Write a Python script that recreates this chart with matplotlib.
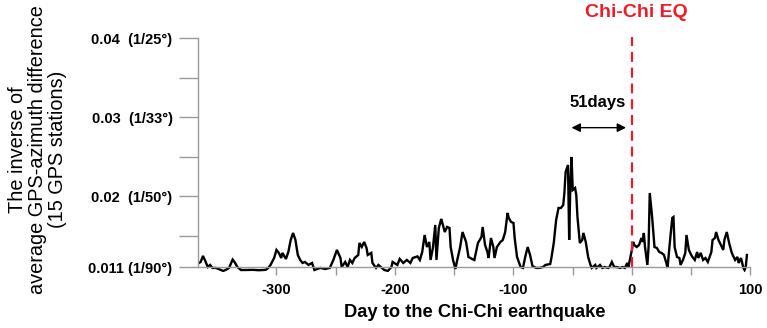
import matplotlib.pyplot as plt
import numpy as np

plt.rcParams['font.family'] = ['Liberation Sans', 'DejaVu Sans']

# days relative to the Chi-Chi earthquake and the inverse azimuth difference
days = [-365, -364, -362, -360, -358, -356, -354, -351, -349, -345, -343, -340,
        -337, -335, -333, -330, -326, -320, -315, -309, -307, -305, -302, -300,
        -298, -296, -295, -292, -290, -288, -286, -284, -282, -280, -278, -276,
        -273, -270, -268, -263, -259, -255, -252, -249, -246, -245, -242, -240,
        -238, -236, -234, -231, -230, -228, -226, -224, -223, -220, -219, -216,
        -214, -212, -209, -206, -203, -202, -198, -196, -193, -190, -187, -185,
        -181, -179, -177, -175, -173, -171, -170, -168, -166, -165, -163, -161,
        -160, -158, -156, -154, -153, -151, -149, -148, -145, -143, -140, -138,
        -135, -133, -130, -127, -126, -124, -122, -121, -119, -117, -116, -114,
        -111, -109, -107, -105, -104, -102, -100, -99, -97, -94, -92, -90,
        -88, -86, -84, -81, -78, -75, -73, -69, -68, -66, -64, -62,
        -60, -58, -57, -56, -54, -53, -52, -51, -50, -48, -47, -46,
        -44, -42, -41, -39, -37, -35, -34, -31, -30, -27, -25, -23,
        -20, -19, -17, -15, -13, -10, -8, -6, -4, -3, 0, 1,
        2, 4, 6, 8, 9, 10, 11, 13, 14, 15, 17, 19,
        21, 23, 25, 27, 29, 30, 32, 34, 35, 36, 38, 40,
        41, 43, 45, 46, 48, 50, 51, 53, 55, 56, 58, 60,
        62, 64, 67, 68, 70, 71, 73, 75, 77, 78, 80, 82,
        84, 85, 87, 89, 90, 92, 94, 95, 96, 97]
values = [0.0116, 0.0117, 0.01246, 0.0118, 0.01106, 0.01132, 0.01094, 0.01094, 0.01081, 0.01056, 0.01068, 0.01094,
          0.0120, 0.0116, 0.01106, 0.01068, 0.01068, 0.0107, 0.01065, 0.0107, 0.01094, 0.01132, 0.0122, 0.01322,
          0.01284, 0.0122, 0.01284, 0.01208, 0.01296, 0.01448, 0.01537, 0.01448, 0.01258, 0.01195, 0.01157, 0.0117,
          0.01132, 0.01157, 0.01068, 0.01094, 0.01081, 0.01094, 0.01195, 0.01322, 0.0122, 0.01106, 0.0117, 0.01106,
          0.01195, 0.01157, 0.0122, 0.01258, 0.0141, 0.0136, 0.01423, 0.01347, 0.01258, 0.01284, 0.01157, 0.01094,
          0.01132, 0.01106, 0.01068, 0.01056, 0.01106, 0.0117, 0.01132, 0.01208, 0.01157, 0.01195, 0.01157, 0.0122,
          0.0124, 0.01195, 0.01296, 0.01511, 0.01359, 0.01423, 0.01195, 0.01347, 0.01638, 0.01195, 0.016, 0.01714,
          0.01663, 0.01549, 0.01613, 0.016, 0.01359, 0.01195, 0.01081, 0.01157, 0.01359, 0.01549, 0.01423, 0.01233,
          0.01208, 0.01195, 0.0141, 0.01486, 0.01613, 0.01385, 0.01296, 0.0122, 0.01473, 0.01359, 0.0122, 0.01359,
          0.01423, 0.01448, 0.01549, 0.0179, 0.01727, 0.01676, 0.01663, 0.01473, 0.01233, 0.01106, 0.01094, 0.0124,
          0.01359, 0.01258, 0.01119, 0.01094, 0.01094, 0.01106, 0.01132, 0.01144, 0.0122, 0.0141, 0.01701, 0.01853,
          0.01853, 0.01891, 0.0205, 0.02309, 0.02398, 0.0145, 0.0217, 0.02499, 0.02081, 0.02106, 0.02018, 0.01739,
          0.0141, 0.01448, 0.01537, 0.01423, 0.01233, 0.01132, 0.01094, 0.01132, 0.01094, 0.01132, 0.01094, 0.01106,
          0.01094, 0.01106, 0.0117, 0.01106, 0.01106, 0.01094, 0.01106, 0.01094, 0.01157, 0.01106, 0.0133, 0.01423,
          0.01385, 0.01359, 0.01385, 0.01473, 0.01423, 0.01537, 0.01359, 0.01132, 0.01359, 0.02043, 0.01739, 0.01359,
          0.01347, 0.01296, 0.01284, 0.01258, 0.01157, 0.01094, 0.01423, 0.01727, 0.01739, 0.01359, 0.01233, 0.0122,
          0.01132, 0.01195, 0.01284, 0.01511, 0.01322, 0.01258, 0.01233, 0.01195, 0.01296, 0.0122, 0.01284, 0.01195,
          0.0122, 0.0117, 0.01296, 0.01448, 0.01473, 0.01549, 0.01448, 0.01385, 0.01322, 0.01448, 0.01549, 0.0141,
          0.01296, 0.01258, 0.01195, 0.01233, 0.01157, 0.0122, 0.01094, 0.01068, 0.01106, 0.01258]

y_ticks = [0.011, 0.02, 0.03, 0.04]
y_labels = ['0.011 (1/90°)', '0.02  (1/50°)', '0.03  (1/33°)', '0.04  (1/25°)']
x_ticks = [-300, -200, -100, 0, 100]
lead_days = 51

fig = plt.figure(figsize=(7.67, 3.28), dpi=100)
ax = fig.add_axes([0.2585, 0.1701, 0.7215, 0.7369])

ax.plot(days, values, color='black', lw=1.7, solid_joinstyle='miter')
ax.plot([0, 0], [0.011, 0.0402], color='#ee1c25', lw=1.6, dashes=(4.5, 2.6))

ax.set_xlim(-366, 101)
ax.set_ylim(0.0104, 0.041)

grey = '#9a9a9a'
for s in ['top', 'right']:
    ax.spines[s].set_visible(False)
ax.spines['left'].set_bounds(0.011, 0.04)
ax.spines['bottom'].set_position(('data', 0.011))
ax.spines['bottom'].set_bounds(-366, 100)
for s in ['left', 'bottom']:
    ax.spines[s].set_color(grey)
    ax.spines[s].set_linewidth(1.0)

ax.set_yticks(y_ticks)
ax.set_yticklabels(y_labels, fontweight='bold', fontsize=10.5)
ax.set_yticks([0.015, 0.025, 0.035], minor=True)
ax.set_xticks(x_ticks)
ax.set_xticklabels([str(t) for t in x_ticks], fontweight='bold', fontsize=10.5)
ax.set_xticks([-250, -150, -50, 50], minor=True)
ax.tick_params(axis='y', which='both', length=13.5, width=1.0, color=grey, pad=5)
ax.tick_params(axis='x', which='both', length=6, width=1.0, color=grey, pad=5)

ax.set_xlabel('Day to the Chi-Chi earthquake', fontweight='bold', fontsize=13.2, labelpad=5)
fig.text(0.049, 0.545, 'The inverse of\naverage GPS-azimuth difference\n(15 GPS stations)',
         rotation=90, ha='center', va='center', multialignment='center',
         fontsize=14.3, linespacing=1.05)

ax.text(4, 0.0433, 'Chi-Chi EQ', color='#ee1c25', fontweight='bold', fontsize=14,
        ha='center', va='center', clip_on=False)
ax.text(-29, 0.0319, f'{lead_days}days', fontweight='bold', fontsize=12,
        ha='center', va='center')
ax.annotate('', xy=(-5, 0.0287), xytext=(-lead_days, 0.0287),
            arrowprops=dict(arrowstyle='<|-|>', color='black', lw=1.0,
                            mutation_scale=13, shrinkA=0, shrinkB=0))

fig.savefig('out.png', dpi=100)
